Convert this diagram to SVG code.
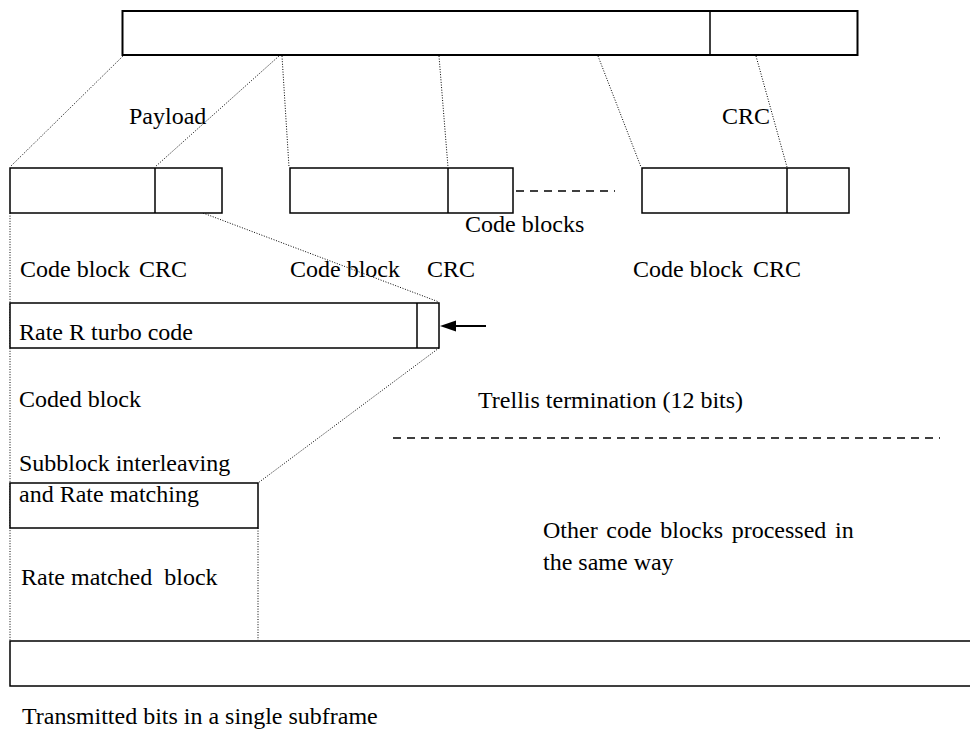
<svg xmlns="http://www.w3.org/2000/svg" width="970" height="738" viewBox="0 0 970 738">
<defs>
<style>
.box{fill:#fff;stroke:#000;stroke-width:1.5}
.thick{stroke-width:2}
.dot{fill:none;stroke:#000;stroke-width:1;stroke-dasharray:1 1.6}
.dash{fill:none;stroke:#000;stroke-width:1.5;stroke-dasharray:8 6}
.div{stroke:#000;stroke-width:1.5}
text{font-family:"Liberation Serif","Times New Roman",serif;font-size:24px;fill:#000}
</style>
</defs>
<rect width="970" height="738" fill="#fff"/>
<g id="connectors">
<line class="dot" x1="123" y1="56" x2="10" y2="167"/>
<line class="dot" x1="279" y1="56" x2="155" y2="167"/>
<line class="dot" x1="282" y1="56" x2="289" y2="167"/>
<line class="dot" x1="439" y1="56" x2="448" y2="167"/>
<line class="dot" x1="598" y1="56" x2="641" y2="167"/>
<line class="dot" x1="756" y1="56" x2="787" y2="167"/>
<line class="dot" x1="203" y1="213" x2="439" y2="302"/>
<line class="dot" x1="439" y1="348" x2="258" y2="483"/>
<line class="dot" x1="10" y1="213" x2="10" y2="640"/>
<line class="dot" x1="258" y1="528" x2="258" y2="640"/>
<line class="dash" x1="516" y1="191" x2="615" y2="191"/>
<line class="dash" x1="393" y1="438" x2="940" y2="438"/>
<line x1="455" y1="326" x2="486" y2="326" stroke="#000" stroke-width="2"/>
<polygon points="440,326 456,320.5 456,331.5" fill="#000"/>
</g>
<g id="transport-block">
<rect class="box thick" x="122.5" y="11" width="735" height="44"/>
<line class="div" x1="710" y1="11" x2="710" y2="55" stroke-width="2"/>
<text x="129" y="124">Payload</text>
<text x="722" y="124">CRC</text>
</g>
<g id="code-block-1">
<rect class="box" x="10" y="168" width="212" height="45"/>
<line class="div" x1="155" y1="168" x2="155" y2="213"/>
<text x="20" y="277">Code block<tspan x="139">CRC</tspan></text>
</g>
<g id="code-block-2">
<rect class="box" x="290" y="168" width="223" height="45"/>
<line class="div" x1="448" y1="168" x2="448" y2="213"/>
<text x="290" y="277">Code block<tspan x="427">CRC</tspan></text>
</g>
<g id="code-block-n">
<rect class="box" x="642" y="168" width="207" height="45"/>
<line class="div" x1="787" y1="168" x2="787" y2="213"/>
<text x="633" y="277">Code block<tspan x="753">CRC</tspan></text>
</g>
<g id="code-blocks-label">
<text x="465" y="232">Code blocks</text>
</g>
<g id="turbo-coded-block">
<rect class="box" x="10" y="303" width="429" height="45"/>
<line class="div" x1="417" y1="303" x2="417" y2="348"/>
<text x="19" y="340">Rate R turbo code</text>
<text x="19" y="407">Coded block</text>
</g>
<g id="trellis-label">
<text x="478" y="408">Trellis termination (12 bits)</text>
</g>
<g id="rate-matched-block">
<rect class="box" x="10" y="483" width="248" height="45"/>
<text x="19" y="471">Subblock interleaving</text>
<text x="19" y="502">and Rate matching</text>
<text x="21" y="585" xml:space="preserve">Rate matched  block</text>
</g>
<g id="other-blocks-label">
<text x="543" y="538" word-spacing="2.7">Other code blocks processed in</text>
<text x="543" y="570">the same way</text>
</g>
<g id="subframe">
<rect class="box" x="10" y="641" width="980" height="45" stroke-width="2"/>
<text x="22" y="724">Transmitted bits in a single subframe</text>
</g>
</svg>
